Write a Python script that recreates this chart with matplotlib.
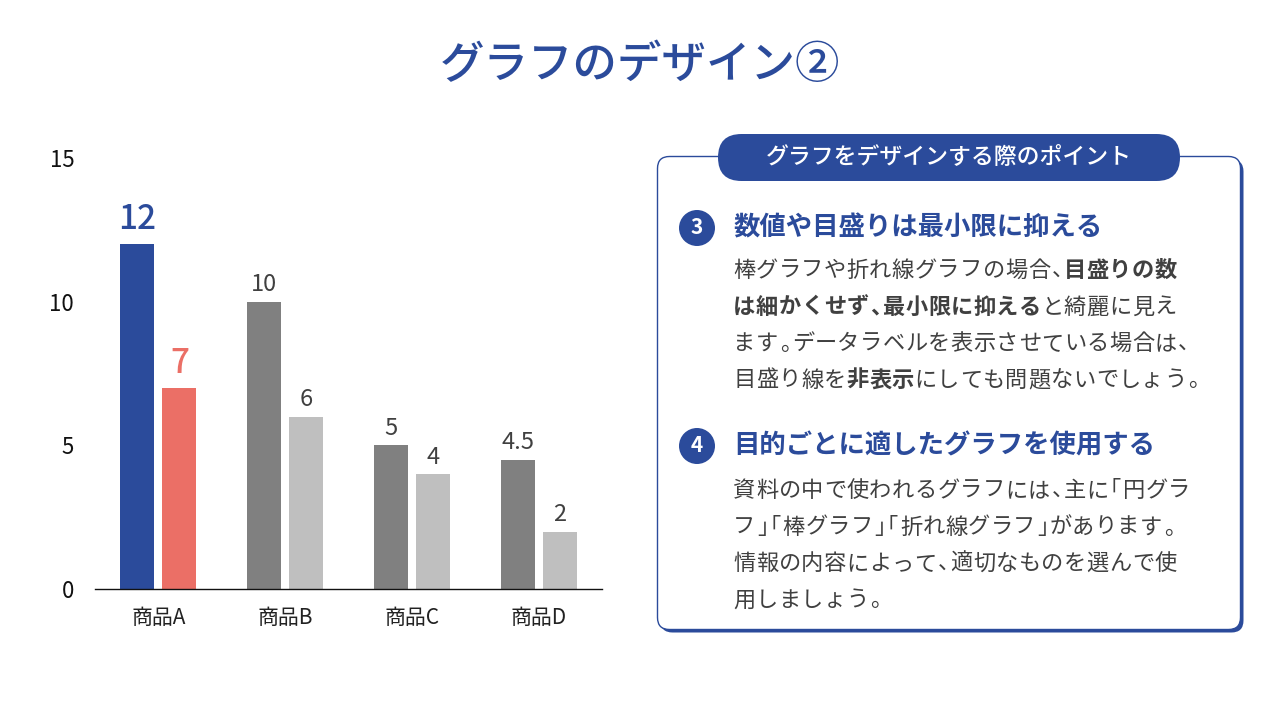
import matplotlib
matplotlib.use("Agg")
import matplotlib.pyplot as plt
from matplotlib.patches import FancyBboxPatch, Circle
import numpy as np

plt.rcParams['font.family'] = ['Noto Sans CJK JP', 'DejaVu Sans']

BLUE = '#2B4B9B'
RED = '#EB6F66'
DARK = '#808080'
LIGHT = '#BFBFBF'
TEXT = '#404040'

categories = ['商品A', '商品B', '商品C', '商品D']
series1 = [12, 10, 5, 4.5]
series2 = [7, 6, 4, 2]
series1_labels = ['12', '10', '5', '4.5']
series2_labels = ['7', '6', '4', '2']
yticks = [0, 5, 10, 15]

title = 'グラフのデザイン②'
panel_header = 'グラフをデザインする際のポイント'
heading3 = '数値や目盛りは最小限に抑える'
heading4 = '目的ごとに適したグラフを使用する'
body3 = [
    [('棒グラフや折れ線グラフの場合、', False), ('目盛りの数', True)],
    [('は細かくせず、最小限に抑える', True), ('と綺麗に見え', False)],
    [('ます。データラベルを表示させている場合は、', False)],
    [('目盛り線を', False), ('非表示', True), ('にしても問題ないでしょう。', False)],
]
body4 = [
    [('資料の中で使われるグラフには、主に「円グラ', False)],
    [('フ」「棒グラフ」「折れ線グラフ」があります。', False)],
    [('情報の内容によって、適切なものを選んで使', False)],
    [('用しましょう。', False)],
]

fig = plt.figure(figsize=(12.8, 7.2), dpi=100)
fig.patch.set_facecolor('white')

# ---- bar chart ----
ax = fig.add_axes([95/1280, 1-589/720, 507/1280, (589-158)/720])
x = np.arange(len(categories))
w = 0.268
off = 0.166
c1 = [BLUE] + [DARK]*(len(categories)-1)
c2 = [RED] + [LIGHT]*(len(categories)-1)
b1 = ax.bar(x - off, series1, w, color=c1, zorder=2)
b2 = ax.bar(x + off, series2, w, color=c2, zorder=2)
for bars, labels, hcol in [(b1, series1_labels, BLUE), (b2, series2_labels, RED)]:
    for i, (r, lab) in enumerate(zip(bars, labels)):
        hl = (i == 0)
        ax.annotate(lab, (r.get_x()+r.get_width()/2, r.get_height()),
                    xytext=(0, 5 if hl else 4),
                    textcoords='offset points', ha='center', va='bottom',
                    fontsize=24 if hl else 17, color=hcol if hl else TEXT,
                    fontweight='medium' if hl else 'normal')
ax.set_xlim(-0.5, len(categories)-0.5)
ax.set_ylim(0, 15)
ax.set_yticks(yticks)
ax.set_yticklabels([str(t) for t in yticks], fontsize=16, color='#111111')
ax.set_xticks(x)
ax.set_xticklabels(categories, fontsize=15, color='#222222')
ax.tick_params(axis='y', length=0, pad=15)
ax.tick_params(axis='x', length=0, pad=13)
for s in ['left', 'right', 'top']:
    ax.spines[s].set_visible(False)
ax.spines['bottom'].set_color('#111111')
ax.spines['bottom'].set_linewidth(1.0)
ax.patch.set_alpha(0)

# ---- overlay in pixel coords ----
ov = fig.add_axes([0, 0, 1, 1])
ov.set_xlim(0, 1280)
ov.set_ylim(720, 0)
ov.axis('off')
ov.patch.set_alpha(0)

ov.text(640, 66, title, ha='center', va='center', fontsize=32, color=BLUE, fontweight='medium')

# panel
shadow = FancyBboxPatch((660.5, 159.5), 583, 473, boxstyle='round,pad=0,rounding_size=12',
                        fc=BLUE, ec='none', zorder=1)
ov.add_patch(shadow)
panel = FancyBboxPatch((657.5, 156.5), 583, 473, boxstyle='round,pad=0,rounding_size=12',
                       fc='white', ec=BLUE, lw=1.0, zorder=2)
ov.add_patch(panel)
pill = FancyBboxPatch((718, 134), 462, 47, boxstyle='round,pad=0,rounding_size=23.5',
                      fc=BLUE, ec='none', zorder=3)
ov.add_patch(pill)
ov.text(949, 158, panel_header, ha='center', va='center', fontsize=16.5, color='white',
        fontweight='medium', zorder=4)

for num, cy in [('3', 228), ('4', 446)]:
    ov.add_patch(Circle((697, cy), 18, fc=BLUE, ec='none', zorder=3))
    ov.text(697, cy, num, ha='center', va='center', fontsize=15, color='white',
            fontweight='bold', zorder=4)

ov.text(733, 228, heading3, ha='left', va='center', fontsize=19, color=BLUE,
        fontweight='bold', zorder=4)
ov.text(733, 446, heading4, ha='left', va='center', fontsize=19, color=BLUE,
        fontweight='bold', zorder=4)

BODY_FS = 16
EM = BODY_FS * 100 / 72
ADV = 1.02 * EM
HALF_L = '、。」'   # ink on the left half
HALF_R = '「'       # ink on the right half


def draw_line(segments, x0, yc):
    xc = x0
    yb = yc + 0.36 * EM
    for s, bold in segments:
        fw = 'bold' if bold else 'normal'
        for ch in s:
            if ch in HALF_L:
                ov.text(xc + 0.06*EM, yb, ch, ha='left', va='baseline', fontsize=BODY_FS,
                        color=TEXT, fontweight=fw, zorder=4)
                xc += 0.6 * EM
            elif ch in HALF_R:
                ov.text(xc + 0.52*EM, yb, ch, ha='right', va='baseline', fontsize=BODY_FS,
                        color=TEXT, fontweight=fw, zorder=4)
                xc += 0.6 * EM
            else:
                ov.text(xc + 0.5*ADV, yb, ch, ha='center', va='baseline', fontsize=BODY_FS,
                        color=TEXT, fontweight=fw, zorder=4)
                xc += ADV


line_h = 36.5
for i, segs in enumerate(body3):
    draw_line(segs, 733, 269 + i*line_h)
for i, segs in enumerate(body4):
    draw_line(segs, 733, 489 + i*line_h)

fig.savefig('out.png', dpi=100, facecolor='white')
